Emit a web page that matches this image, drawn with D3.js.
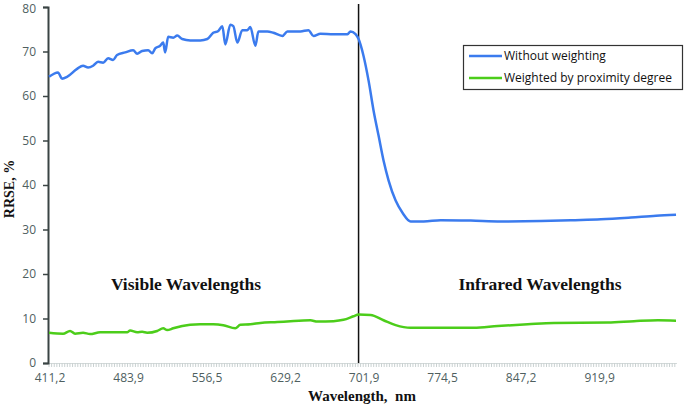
<!DOCTYPE html>
<html>
<head>
<meta charset="utf-8">
<script src="https://cdn.jsdelivr.net/npm/d3@7"></script>
<style>
  body { margin: 0; background: #fff; }
  svg { display: block; }
</style>
</head>
<body>
<div id="chart"></div>
<script>
// values (wavelength in nm, RRSE in %)
const blueWl = [411.2, 419.5, 423.3, 427.9, 437.2, 442.7, 447.4, 452.0, 456.6, 461.3, 465.9, 470.5, 474.2, 481.7, 489.1, 492.8, 497.4, 503.0, 506.7, 509.5, 514.1, 516.9, 518.7, 521.5, 526.2, 529.9, 534.5, 541.9, 551.2, 557.7, 563.2, 567.9, 571.6, 574.4, 579.0, 581.8, 585.5, 590.1, 594.8, 597.5, 602.2, 605.0, 613.3, 618.9, 627.2, 631.8, 643.9, 651.3, 656.0, 662.4, 674.5, 681.0, 687.5, 690.2, 694.9, 697.7, 702.3, 707.0, 711.6, 716.2, 720.8, 725.5, 732.0, 738.5, 745.9, 758.0, 773.7, 801.5, 829.3, 866.4, 894.2, 922.0, 949.8, 973.0, 991.5];
const blueVal = [64.3, 65.3, 63.9, 64.3, 66.1, 66.8, 66.4, 66.8, 67.7, 67.5, 68.5, 68.1, 69.2, 69.8, 70.3, 69.5, 70.1, 70.3, 69.6, 70.7, 71.3, 72.0, 69.8, 73.3, 73.1, 73.6, 72.8, 72.5, 72.5, 72.8, 74.2, 74.6, 75.7, 71.6, 76.0, 75.7, 72.0, 74.8, 74.8, 75.5, 71.3, 74.5, 74.5, 74.2, 73.5, 74.5, 74.5, 74.8, 73.5, 74.0, 73.9, 73.9, 73.9, 74.5, 73.9, 72.8, 69.0, 63.4, 56.7, 51.1, 45.5, 41.0, 36.5, 33.7, 31.8, 31.8, 32.1, 32.0, 31.8, 31.9, 32.1, 32.3, 32.7, 33.1, 33.3];

const greenWl = [411.2, 424.2, 430.7, 435.3, 442.7, 449.2, 458.5, 483.5, 486.3, 492.8, 497.4, 502.0, 511.3, 516.9, 520.6, 526.2, 534.5, 541.9, 551.2, 563.2, 572.5, 583.6, 588.3, 597.5, 606.8, 622.6, 634.6, 653.1, 659.6, 674.5, 683.7, 693.0, 697.7, 708.8, 720.8, 732.0, 745.9, 773.7, 804.3, 826.5, 854.3, 878.4, 928.5, 952.6, 974.8, 991.5];
const greenVal = [6.8, 6.6, 7.2, 6.6, 6.8, 6.5, 6.9, 6.9, 7.3, 6.9, 7.0, 6.8, 7.2, 7.8, 7.4, 7.8, 8.3, 8.6, 8.7, 8.7, 8.5, 7.8, 8.6, 8.7, 9.0, 9.2, 9.4, 9.6, 9.3, 9.4, 9.7, 10.5, 10.9, 10.8, 9.6, 8.5, 7.9, 7.9, 7.9, 8.3, 8.7, 9.0, 9.1, 9.4, 9.6, 9.5];

const xTicks = [411.2, 483.9, 556.5, 629.2, 701.9, 774.5, 847.2, 919.9];
const yTicks = [0, 10, 20, 30, 40, 50, 60, 70, 80];
const seriesNames = ["Without weighting", "Weighted by proximity degree"];
const seriesColors = ["#3b7bee", "#4ccd1a"];
const boundaryWl = 697.7;
const regionLabels = ["Visible Wavelengths", "Infrared Wavelengths"];

const width = 685, height = 406;

const svg = d3.select("#chart").append("svg")
    .attr("width", width).attr("height", height);

const x = d3.scaleLinear().domain([411.2, 992.4]).range([49, 677]);
const y = d3.scaleLinear().domain([0, 80]).range([363, 7]);

// minor ticks along the bottom (category marks)
const minorStep = 72.7 / 30;
const minor = d3.range(411.2, 992.4, minorStep);
svg.append("line")
    .attr("x1", x(411.2)).attr("x2", x(992.4))
    .attr("y1", y(0) + 0.5).attr("y2", y(0) + 0.5)
    .attr("stroke", "#d4dada");
svg.append("g").selectAll("line")
    .data(minor).enter().append("line")
    .attr("x1", d => x(d)).attr("x2", d => x(d))
    .attr("y1", y(0)).attr("y2", y(0) + 4)
    .attr("stroke", "#c9d1d1").attr("stroke-width", 1);

// x tick labels
svg.append("g").selectAll("text")
    .data(xTicks).enter().append("text")
    .attr("x", d => x(d) + 1)
    .attr("y", 382)
    .attr("text-anchor", "middle")
    .attr("font-family", "Open Sans, sans-serif")
    .attr("font-size", 12)
    .attr("fill", "#4f5f5f")
    .text(d => d3.format(".1f")(d).replace(".", ","));

// y axis
const yAxis = d3.axisLeft(y).tickValues(yTicks).tickSize(5).tickPadding(7);
const gy = svg.append("g")
    .attr("transform", `translate(${x(411.2) - 1},0)`)
    .call(yAxis);
gy.select(".domain").attr("stroke", "#3a4444").attr("stroke-width", 2);
gy.selectAll(".tick line").attr("stroke", "#3a4444").attr("stroke-width", 1.5);
gy.selectAll(".tick text")
    .attr("font-family", "Open Sans, sans-serif")
    .attr("font-size", 12)
    .attr("fill", "#4f5f5f");
gy.selectAll(".tick").filter(d => d === 80).select("text").attr("dy", "0.42em");

// visible / infrared boundary
svg.append("line")
    .attr("x1", x(boundaryWl)).attr("x2", x(boundaryWl))
    .attr("y1", 4).attr("y2", y(0))
    .attr("stroke", "#111").attr("stroke-width", 1.5);

// series
const line = d3.line()
    .x(d => x(d[0])).y(d => y(d[1]))
    .curve(d3.curveMonotoneX);

const blueData = blueWl.map((w, i) => [w, blueVal[i]]);
const greenData = greenWl.map((w, i) => [w, greenVal[i]]);

svg.append("path").datum(greenData)
    .attr("d", line).attr("fill", "none")
    .attr("stroke", seriesColors[1]).attr("stroke-width", 2.5)
    .attr("stroke-linejoin", "round");
svg.append("path").datum(blueData)
    .attr("d", line).attr("fill", "none")
    .attr("stroke", seriesColors[0]).attr("stroke-width", 2.5)
    .attr("stroke-linejoin", "round");

// region labels
const serif = "Liberation Serif, Times New Roman, serif";
svg.append("text")
    .attr("x", 186).attr("y", 290)
    .attr("text-anchor", "middle")
    .attr("font-family", serif).attr("font-weight", "bold")
    .attr("font-size", 17.5).attr("fill", "#111")
    .text(regionLabels[0]);
svg.append("text")
    .attr("x", 540).attr("y", 290)
    .attr("text-anchor", "middle")
    .attr("font-family", serif).attr("font-weight", "bold")
    .attr("font-size", 17.5).attr("fill", "#111")
    .text(regionLabels[1]);

// axis titles
svg.append("text")
    .attr("x", 362).attr("y", 401)
    .attr("text-anchor", "middle")
    .attr("font-family", serif).attr("font-weight", "bold")
    .attr("font-size", 15).attr("fill", "#111")
    .attr("xml:space", "preserve")
    .text("Wavelength,  nm");
svg.append("text")
    .attr("transform", "translate(14,189) rotate(-90)")
    .attr("text-anchor", "middle")
    .attr("font-family", serif).attr("font-weight", "bold")
    .attr("font-size", 14).attr("fill", "#111")
    .text("RRSE, %");

// legend
const legend = svg.append("g");
legend.append("rect")
    .attr("x", 463.5).attr("y", 45.5)
    .attr("width", 219).attr("height", 44)
    .attr("fill", "#fff").attr("stroke", "#333").attr("stroke-width", 1.2);
seriesNames.forEach((name, i) => {
    const ly = 56 + i * 22;
    legend.append("line")
        .attr("x1", 469).attr("x2", 502)
        .attr("y1", ly).attr("y2", ly)
        .attr("stroke", seriesColors[i]).attr("stroke-width", 2.5);
    legend.append("text")
        .attr("x", 504).attr("y", ly + 4)
        .attr("font-family", "Open Sans, sans-serif")
        .attr("font-size", 12)
        .attr("fill", "#111")
        .text(name);
});
</script>
</body>
</html>
